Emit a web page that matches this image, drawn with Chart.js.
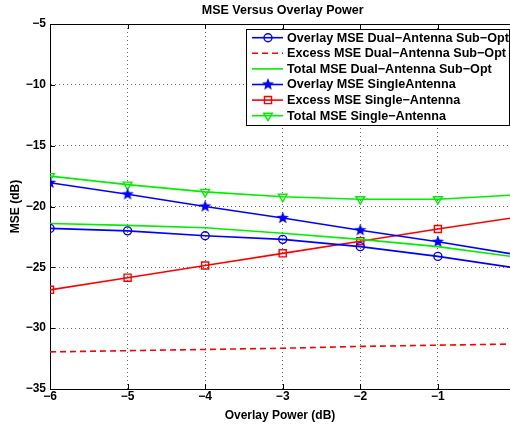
<!DOCTYPE html>
<html>
<head>
<meta charset="utf-8">
<script src="https://cdn.jsdelivr.net/npm/chart.js@4"></script>
<style>
  html, body { margin: 0; padding: 0; background: #fff; overflow: hidden; }
  #wrap { width: 510px; height: 427px; position: relative; }
</style>
</head>
<body>
<div id="wrap"><canvas id="mseChart"></canvas></div>
<script>
// x values (dB)
const overlayPower = [-6, -5, -4, -3, -2, -1, 0];

// series
const overlayDual = [-21.8, -22.0, -22.4, -22.7, -23.3, -24.1, -25.05];
const excessDual  = [-31.95, -31.85, -31.75, -31.65, -31.5, -31.4, -31.3];
const totalDual   = [-21.4, -21.55, -21.75, -22.2, -22.7, -23.3, -24.15];
const overlaySingle = [-18.05, -19.0, -20.0, -20.95, -21.95, -22.9, -23.95];
const excessSingle  = [-26.85, -25.85, -24.85, -23.85, -22.85, -21.85, -20.9];
const totalSingle   = [-17.5, -18.2, -18.8, -19.2, -19.4, -19.4, -19.05];

const yTicks = [-35, -30, -25, -20, -15, -10, -5];
const xTicks = [-6, -5, -4, -3, -2, -1];
const xMax = -0.07;   // the figure is cut just before x = 0

const FONT = "'Liberation Sans', Arial, Helvetica, sans-serif";

// filled 5-point star marker
function makeStar(color, size) {
    const c = document.createElement('canvas');
    c.width = size; c.height = size;
    const g = c.getContext('2d');
    const cx = size / 2, cy = size / 2, ro = size / 2 - 0.5, ri = ro * 0.42;
    g.beginPath();
    for (let i = 0; i < 10; i++) {
        const r = i % 2 === 0 ? ro : ri;
        const a = -Math.PI / 2 + i * Math.PI / 5;
        const px = cx + r * Math.cos(a), py = cy + r * Math.sin(a);
        if (i === 0) g.moveTo(px, py); else g.lineTo(px, py);
    }
    g.closePath();
    g.fillStyle = color;
    g.fill();
    return c;
}
const starImg = makeStar('#0000ff', 14);

function pts(ys) {
    return overlayPower.map((x, i) => ({ x: x, y: ys[i] }));
}

const series = [
    { label: 'Overlay MSE Dual\u2212Antenna Sub\u2212Opt', data: overlayDual, color: '#0000ff', style: 'circle', radius: 4, dash: [] },
    { label: 'Excess MSE Dual\u2212Antenna Sub\u2212Opt', data: excessDual, color: '#ff0000', style: false, radius: 0, dash: [6, 4] },
    { label: 'Total MSE Dual\u2212Antenna Sub\u2212Opt', data: totalDual, color: '#00ee00', style: false, radius: 0, dash: [] },
    { label: 'Overlay MSE SingleAntenna', data: overlaySingle, color: '#0000ff', style: starImg, radius: 6, dash: [] },
    { label: 'Excess MSE Single\u2212Antenna', data: excessSingle, color: '#ff0000', style: 'rect', radius: 5, dash: [] },
    { label: 'Total MSE Single\u2212Antenna', data: totalSingle, color: '#00ee00', style: 'triangle', radius: 5, dash: [], rotation: 180 }
];

const datasets = series.map(s => ({
    label: s.label,
    data: pts(s.data),
    borderColor: s.color,
    backgroundColor: 'rgba(0,0,0,0)',
    borderWidth: 1.6,
    borderDash: s.dash,
    pointStyle: s.style,
    pointRadius: s.radius,
    pointRotation: s.rotation || 0,
    pointBorderColor: s.color,
    pointBackgroundColor: 'rgba(0,0,0,0)',
    pointBorderWidth: 1.4,
    tension: 0
}));

const minusSign = v => String(v).replace('-', '\u2212');

// title, x tick labels, frame, inner tick marks and the legend box
const matlabLook = {
    id: 'matlabLook',
    afterLayout(chart) {
        // the original plot runs right to the edge of the picture
        const xs = chart.scales.x;
        const r = chart.width;
        chart.chartArea.right = r;
        chart.chartArea.width = r - chart.chartArea.left;
        xs.right = r;
        xs.width = r - xs.left;
        xs.configure();
    },
    afterDraw(chart) {
        const ctx = chart.ctx;
        const a = chart.chartArea;
        const xs = chart.scales.x, ys = chart.scales.y;
        ctx.save();

        ctx.fillStyle = '#000';
        ctx.font = 'bold 12.5px ' + FONT;
        ctx.textAlign = 'center';
        ctx.textBaseline = 'middle';
        ctx.fillText('MSE Versus Overlay Power', xs.getPixelForValue(-3), 10.5);

        ctx.font = 'bold 12px ' + FONT;
        xTicks.forEach(v => {
            ctx.fillText(minusSign(v), xs.getPixelForValue(v), a.bottom + 8);
        });
        ctx.textAlign = 'left';

        ctx.strokeStyle = '#000';
        ctx.lineWidth = 1;
        ctx.beginPath();
        ctx.moveTo(a.left, a.top + 0.5);
        ctx.lineTo(a.right, a.top + 0.5);
        xTicks.forEach(v => {
            const px = Math.round(xs.getPixelForValue(v)) + 0.5;
            ctx.moveTo(px, a.bottom); ctx.lineTo(px, a.bottom - 5);
            ctx.moveTo(px, a.top); ctx.lineTo(px, a.top + 5);
        });
        yTicks.forEach(v => {
            const py = Math.round(ys.getPixelForValue(v)) + 0.5;
            ctx.moveTo(a.left, py); ctx.lineTo(a.left + 5, py);
        });
        ctx.stroke();

        // legend
        const bx = 246, by = 29, bw = 263, bh = 96;
        ctx.fillStyle = '#fff';
        ctx.fillRect(bx, by, bw, bh);
        ctx.lineWidth = 1;
        ctx.strokeRect(bx + 0.5, by + 0.5, bw, bh);
        ctx.font = 'bold 12.6px ' + FONT;
        series.forEach((s, i) => {
            const y = 37.7 + i * 15.6;
            ctx.strokeStyle = s.color;
            ctx.lineWidth = 1.6;
            ctx.setLineDash(s.dash);
            ctx.beginPath();
            ctx.moveTo(252, y); ctx.lineTo(283, y);
            ctx.stroke();
            ctx.setLineDash([]);
            if (s.style) {
                ctx.lineWidth = 1.4;
                ctx.fillStyle = 'rgba(0,0,0,0)';
                Chart.helpers.drawPoint(ctx, {
                    pointStyle: s.style, radius: s.radius,
                    rotation: s.rotation || 0, borderWidth: 1.4
                }, 268, y);
            }
            ctx.fillStyle = '#000';
            ctx.fillText(s.label, 287, y + 0.5);
        });
        ctx.restore();
    }
};

const tickFont = { family: FONT, size: 12, weight: 'bold' };

new Chart(document.getElementById('mseChart'), {
    type: 'line',
    data: { datasets: datasets },
    options: {
        responsive: true,
        maintainAspectRatio: false,
        animation: false,
        layout: { padding: { top: 24, right: 0, bottom: 0, left: 0 } },
        plugins: {
            legend: { display: false },
            tooltip: { enabled: false },
            title: { display: false }
        },
        scales: {
            x: {
                type: 'linear',
                min: -6,
                max: xMax,
                afterFit: s => { s.height = 38; },
                afterBuildTicks: s => { s.ticks = xTicks.map(v => ({ value: v })); },
                border: { color: '#000', width: 1, dash: [1, 3] },
                grid: { color: '#666', drawTicks: false },
                // labels are drawn by the matlabLook plugin
                ticks: { display: false },
                title: {
                    display: true, text: 'Overlay Power (dB)', color: '#000',
                    font: tickFont,
                    padding: { top: 0, bottom: 4 }
                }
            },
            y: {
                min: -35,
                max: -5,
                afterFit: s => { s.width = 50; },
                afterBuildTicks: s => { s.ticks = yTicks.map(v => ({ value: v })); },
                border: { color: '#000', width: 1, dash: [1, 3] },
                grid: { color: '#666', drawTicks: false },
                ticks: { color: '#000', padding: 4, font: tickFont, callback: minusSign },
                title: {
                    display: true, text: 'MSE (dB)', color: '#000',
                    font: tickFont,
                    padding: { top: 8, bottom: 0 }
                }
            }
        }
    },
    plugins: [matlabLook]
});
</script>
</body>
</html>
